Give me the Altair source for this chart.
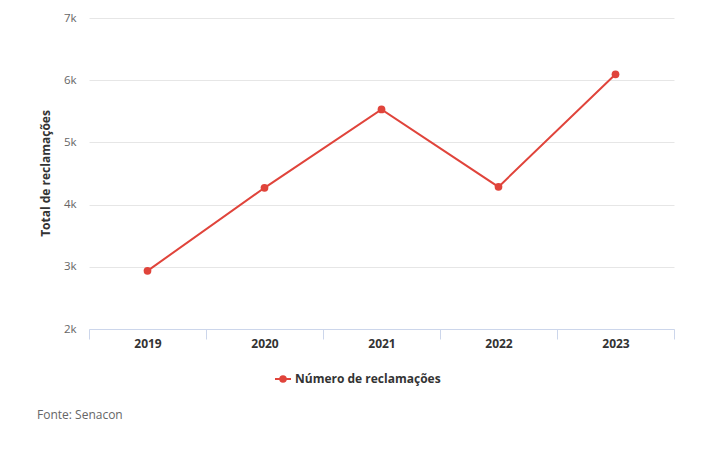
import altair as alt
import pandas as pd

years = ["2019", "2020", "2021", "2022", "2023"]
values = [2935, 4270, 5530, 4285, 6095]
series = ["Número de reclamações"] * 5
source_note = ["Fonte: Senacon"]

df = pd.DataFrame({"ano": years, "valor": values, "serie": series})
note_df = pd.DataFrame({"txt": source_note})

RED = "#e0443b"
FONT = "Open Sans"

legend_symbol = "M-1.6,0H1.6M-0.55,0a0.55,0.55 0 1,0 1.1,0a0.55,0.55 0 1,0 -1.1,0"

line = alt.Chart(df).mark_line(
    strokeWidth=2,
    point=alt.OverlayMarkDef(filled=True, size=60, opacity=1),
).encode(
    x=alt.X("ano:N", title=None, sort=years,
            scale=alt.Scale(paddingInner=0, paddingOuter=0),
            axis=alt.Axis(labelAngle=0, labelFont=FONT, labelFontSize=12,
                          labelFontWeight="bold", labelColor="#333333",
                          domainColor="#ccd6eb", tickColor="#ccd6eb",
                          tickSize=10, tickBand="extent", labelPadding=-1,
                          grid=False)),
    y=alt.Y("valor:Q", title="Total de reclamações",
            scale=alt.Scale(domain=[2000, 7000], nice=False, zero=False),
            axis=alt.Axis(values=[2000, 3000, 4000, 5000, 6000, 7000], format="~s",
                          labelFont=FONT, labelFontSize=11.5, labelColor="#666666",
                          domain=False, ticks=False, labelPadding=13,
                          gridColor="#e6e6e6", titleFont=FONT, titleFontSize=12,
                          titleFontWeight="bold", titleColor="#333333",
                          titleAngle=-90, titleX=-44, titleY=155,
                          titleAlign="center", titleBaseline="middle")),
    color=alt.Color("serie:N", title=None,
                    scale=alt.Scale(range=[RED]),
                    legend=alt.Legend(orient="none", legendX=188, legendY=355,
                                      symbolType=legend_symbol, symbolSize=100,
                                      symbolStrokeWidth=2, symbolFillColor=RED,
                                      symbolStrokeColor=RED,
                                      labelFont=FONT, labelFontSize=12,
                                      labelFontWeight="bold", labelColor="#333333",
                                      labelOffset=6)),
)

note = alt.Chart(note_df).mark_text(
    align="left", baseline="middle", font=FONT, fontSize=12, color="#666666"
).encode(text="txt:N", x=alt.value(-52), y=alt.value(397))

chart = alt.layer(line, note).properties(
    width=585, height=311,
    autosize=alt.AutoSizeParams(type="none"),
    padding={"left": 81, "top": 10, "right": 42, "bottom": 116},
).configure(background="white").configure_view(stroke=None)

chart.save("out.html", embed_options={"renderer": "svg", "actions": False})
